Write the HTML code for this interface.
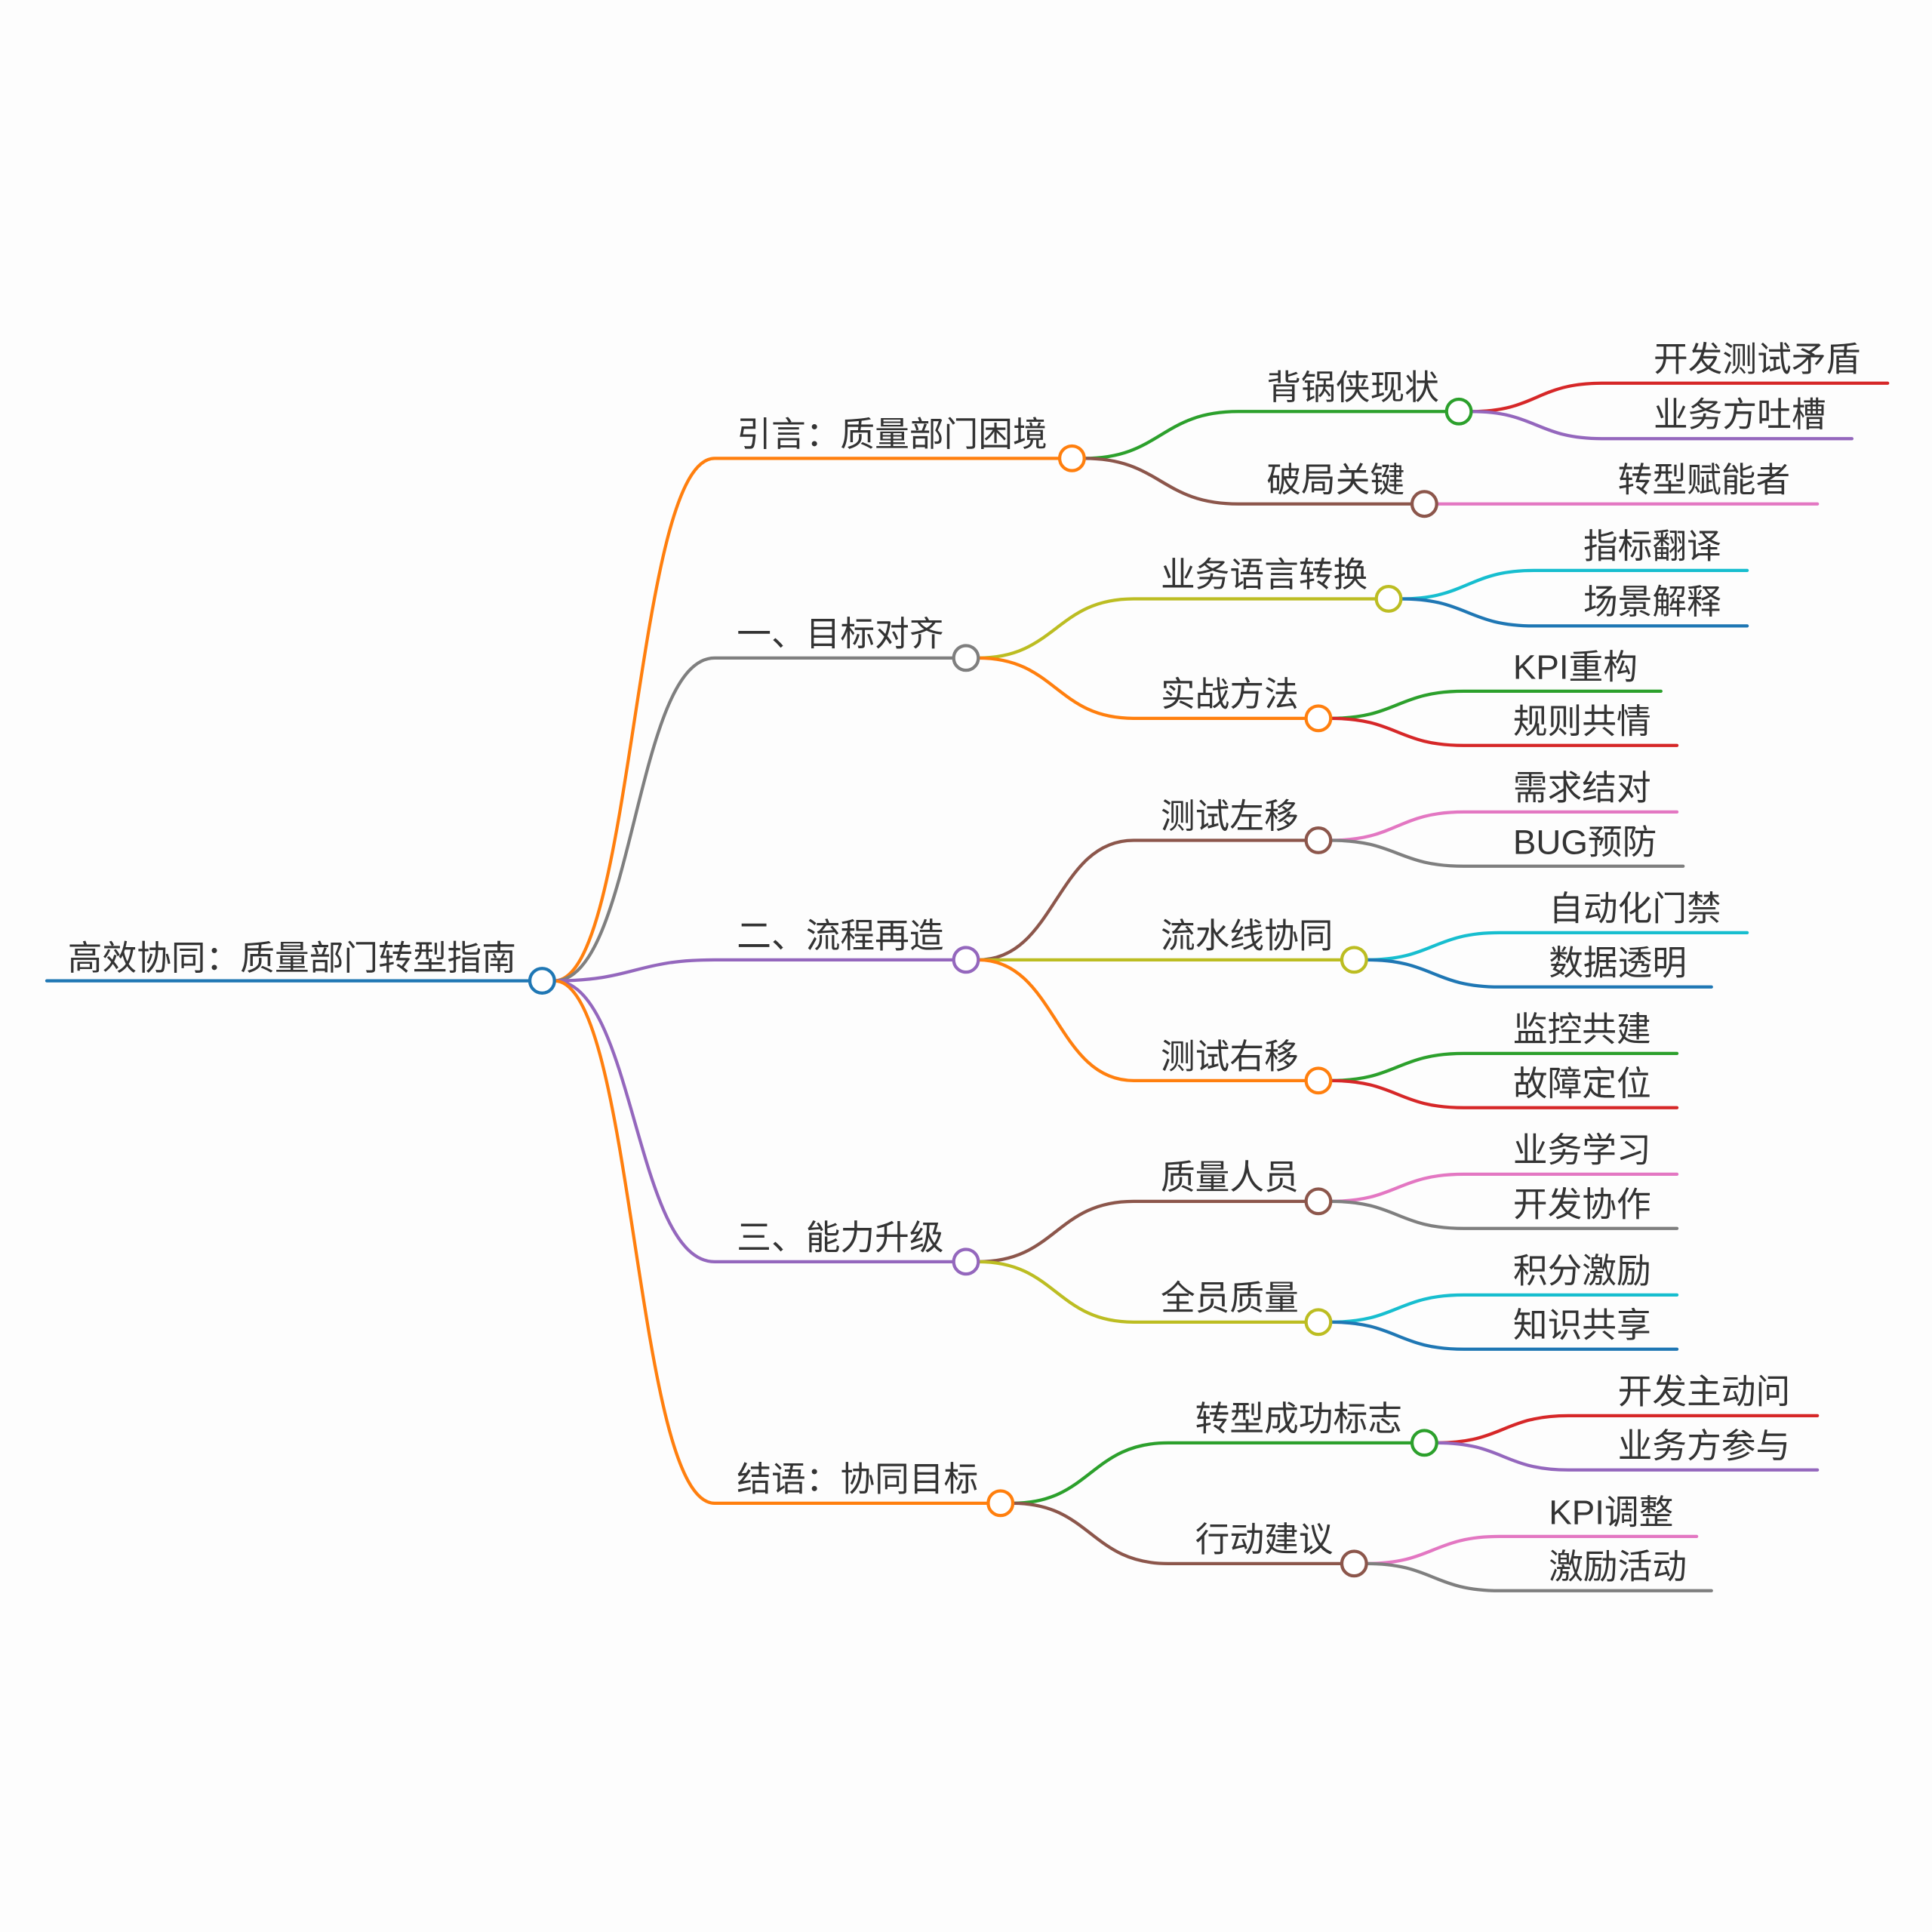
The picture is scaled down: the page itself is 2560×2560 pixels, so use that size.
<!DOCTYPE html>
<html><head><meta charset="utf-8"><style>
html,body{margin:0;padding:0;background:#fdfdfd;}
svg{display:block}
text{font-family:"Liberation Sans","Noto Sans CJK SC",sans-serif;font-size:28px;fill:#333;}
path{fill:none;stroke-width:2.6;stroke-linecap:round}
circle{fill:#fff;stroke-width:2.6}
</style></head><body>
<svg width="2560" height="2560" viewBox="0 0 1568 1568" xmlns="http://www.w3.org/2000/svg">
<rect width="1568" height="1568" fill="#fdfdfd"/>
<path d="M38 796 L430 796" stroke="#1f77b4"/>
<path d="M450 796 C515 796 515 372 580 372 L860 372" stroke="#ff7f0e"/>
<path d="M450 796 C515 796 515 534 580 534 L774 534" stroke="#7f7f7f"/>
<path d="M450 796 C515 796 515 779 580 779 L774 779" stroke="#9467bd"/>
<path d="M450 796 C515 796 515 1024 580 1024 L774 1024" stroke="#9467bd"/>
<path d="M450 796 C515 796 515 1220 580 1220 L802 1220" stroke="#ff7f0e"/>
<path d="M880 372 C942 372 942 334 1005 334 L1174 334" stroke="#2ca02c"/>
<path d="M880 372 C942 372 942 409 1005 409 L1146 409" stroke="#8c564b"/>
<path d="M794 534 C857 534 857 486 920 486 L1117 486" stroke="#bcbd22"/>
<path d="M794 534 C857 534 857 583 920 583 L1060 583" stroke="#ff7f0e"/>
<path d="M794 779 C857 779 857 682 920 682 L1060 682" stroke="#8c564b"/>
<path d="M794 779 L1089 779" stroke="#bcbd22"/>
<path d="M794 779 C857 779 857 877 920 877 L1060 877" stroke="#ff7f0e"/>
<path d="M794 1024 C857 1024 857 975 920 975 L1060 975" stroke="#8c564b"/>
<path d="M794 1024 C857 1024 857 1073 920 1073 L1060 1073" stroke="#bcbd22"/>
<path d="M822 1220 C885 1220 885 1171 948 1171 L1146 1171" stroke="#2ca02c"/>
<path d="M822 1220 C885 1220 885 1269 948 1269 L1089 1269" stroke="#8c564b"/>
<path d="M1194 334 C1247 334 1247 311 1300 311 L1532 311" stroke="#d62728"/>
<path d="M1194 334 C1247 334 1247 356 1300 356 L1503 356" stroke="#9467bd"/>
<path d="M1166 409 L1475 409" stroke="#e377c2"/>
<path d="M1137 486 C1191 486 1191 463 1245 463 L1418 463" stroke="#17becf"/>
<path d="M1137 486 C1191 486 1191 508 1245 508 L1418 508" stroke="#1f77b4"/>
<path d="M1080 583 C1134 583 1134 561 1188 561 L1348 561" stroke="#2ca02c"/>
<path d="M1080 583 C1134 583 1134 605 1188 605 L1361 605" stroke="#d62728"/>
<path d="M1080 682 C1134 682 1134 659 1188 659 L1361 659" stroke="#e377c2"/>
<path d="M1080 682 C1134 682 1134 703 1188 703 L1366 703" stroke="#7f7f7f"/>
<path d="M1109 779 C1163 779 1163 757 1217 757 L1418 757" stroke="#17becf"/>
<path d="M1109 779 C1163 779 1163 801 1217 801 L1389 801" stroke="#1f77b4"/>
<path d="M1080 877 C1134 877 1134 855 1188 855 L1361 855" stroke="#2ca02c"/>
<path d="M1080 877 C1134 877 1134 899 1188 899 L1361 899" stroke="#d62728"/>
<path d="M1080 975 C1134 975 1134 953 1188 953 L1361 953" stroke="#e377c2"/>
<path d="M1080 975 C1134 975 1134 997 1188 997 L1361 997" stroke="#7f7f7f"/>
<path d="M1080 1073 C1134 1073 1134 1051 1188 1051 L1361 1051" stroke="#17becf"/>
<path d="M1080 1073 C1134 1073 1134 1095 1188 1095 L1361 1095" stroke="#1f77b4"/>
<path d="M1166 1171 C1220 1171 1220 1149 1273 1149 L1475 1149" stroke="#d62728"/>
<path d="M1166 1171 C1220 1171 1220 1193 1273 1193 L1475 1193" stroke="#9467bd"/>
<path d="M1109 1269 C1163 1269 1163 1247 1217 1247 L1377 1247" stroke="#e377c2"/>
<path d="M1109 1269 C1163 1269 1163 1291 1217 1291 L1389 1291" stroke="#7f7f7f"/>
<circle cx="440" cy="796" r="10" stroke="#1f77b4"/>
<circle cx="870" cy="372" r="10" stroke="#ff7f0e"/>
<circle cx="784" cy="534" r="10" stroke="#7f7f7f"/>
<circle cx="784" cy="779" r="10" stroke="#9467bd"/>
<circle cx="784" cy="1024" r="10" stroke="#9467bd"/>
<circle cx="812" cy="1220" r="10" stroke="#ff7f0e"/>
<circle cx="1184" cy="334" r="10" stroke="#2ca02c"/>
<circle cx="1156" cy="409" r="10" stroke="#8c564b"/>
<circle cx="1127" cy="486" r="10" stroke="#bcbd22"/>
<circle cx="1070" cy="583" r="10" stroke="#ff7f0e"/>
<circle cx="1070" cy="682" r="10" stroke="#8c564b"/>
<circle cx="1099" cy="779" r="10" stroke="#bcbd22"/>
<circle cx="1070" cy="877" r="10" stroke="#ff7f0e"/>
<circle cx="1070" cy="975" r="10" stroke="#8c564b"/>
<circle cx="1070" cy="1073" r="10" stroke="#bcbd22"/>
<circle cx="1156" cy="1171" r="10" stroke="#2ca02c"/>
<circle cx="1099" cy="1269" r="10" stroke="#8c564b"/>
<text x="55" y="787">高效协同：质量部门转型指南</text>
<text x="598" y="362">引言：质量部门困境</text>
<text x="598" y="524">一、目标对齐</text>
<text x="598" y="769">二、流程再造</text>
<text x="598" y="1014">三、能力升级</text>
<text x="598" y="1210">结语：协同目标</text>
<text x="1028" y="324">背锅侠现状</text>
<text x="1028" y="399">破局关键</text>
<text x="942" y="476">业务语言转换</text>
<text x="942" y="573">实战方法</text>
<text x="942" y="672">测试左移</text>
<text x="942" y="769">流水线协同</text>
<text x="942" y="867">测试右移</text>
<text x="942" y="965">质量人员</text>
<text x="942" y="1063">全员质量</text>
<text x="970" y="1161">转型成功标志</text>
<text x="970" y="1259">行动建议</text>
<text x="1342" y="301">开发测试矛盾</text>
<text x="1342" y="346">业务方吐槽</text>
<text x="1313" y="399">转型赋能者</text>
<text x="1285" y="453">指标翻译</text>
<text x="1285" y="498">场景解释</text>
<text x="1228" y="551">KPI重构</text>
<text x="1228" y="595">规则共情</text>
<text x="1228" y="649">需求结对</text>
<text x="1228" y="693">BUG预防</text>
<text x="1257" y="747">自动化门禁</text>
<text x="1257" y="791">数据透明</text>
<text x="1228" y="845">监控共建</text>
<text x="1228" y="889">故障定位</text>
<text x="1228" y="943">业务学习</text>
<text x="1228" y="987">开发协作</text>
<text x="1228" y="1041">积分激励</text>
<text x="1228" y="1085">知识共享</text>
<text x="1313" y="1139">开发主动问</text>
<text x="1313" y="1183">业务方参与</text>
<text x="1257" y="1237">KPI调整</text>
<text x="1257" y="1281">激励活动</text>
</svg>
</body></html>
